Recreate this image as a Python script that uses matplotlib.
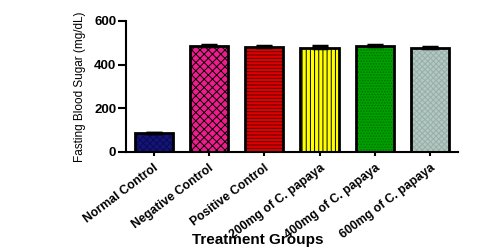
import matplotlib
matplotlib.use("Agg")
import matplotlib.pyplot as plt
import numpy as np

plt.rcParams["font.family"] = ["Liberation Sans", "DejaVu Sans"]
plt.rcParams["hatch.linewidth"] = 0.7

groups = [
    "Normal Control",
    "Negative Control",
    "Positive Control",
    "200mg of C. papaya",
    "400mg of C. papaya",
    "600mg of C. papaya",
]
fbs_mean = [85, 487, 482, 478, 485, 478]
fbs_err = [2, 3, 4, 8, 4, 2]

face_colors = ["#14147a", "#ee1c8c", "#e00000", "#ffff00", "#00a000", "#b4c8c2"]
hatch_colors = ["#0a0a50", "#000000", "#500000", "#000000", "#007000", "#98aea8"]
hatches = ["xxxxx", "xxxx", "-----", "||||", "......", "xxxxxx"]

fig = plt.figure(figsize=(4.96, 2.52), dpi=100)
ax = fig.add_axes([0.254, 0.397, 0.669, 0.52])

x = np.arange(len(groups))
width = 0.69
for i in range(len(groups)):
    ax.bar(x[i], fbs_mean[i], width=width, color=face_colors[i],
           edgecolor=hatch_colors[i], hatch=hatches[i], linewidth=0, zorder=2)
ax.bar(x, fbs_mean, width=width, fill=False, edgecolor="black", linewidth=2, zorder=3)
ax.errorbar(x, fbs_mean, yerr=[np.zeros(len(x)), fbs_err], fmt="none",
            ecolor="black", elinewidth=1.5, capsize=6, capthick=2.5, zorder=4)

ax.set_xlim(-0.5, 5.5)
ax.set_ylim(0, 600)
ax.set_yticks([0, 200, 400, 600])
ax.set_xticks(x)
ax.set_xticklabels(groups, rotation=37, ha="right", rotation_mode="anchor",
                   fontsize=8.8, fontweight="bold")
for lbl in ax.get_yticklabels():
    lbl.set_fontweight("bold")
    lbl.set_fontsize(9.5)

ax.spines["top"].set_visible(False)
ax.spines["right"].set_visible(False)
ax.spines["left"].set_linewidth(1.5)
ax.spines["bottom"].set_linewidth(1.5)
ax.tick_params(axis="y", direction="out", length=6, width=1.5, pad=1)
ax.tick_params(axis="x", direction="out", length=3, width=1.5, pad=4)

ax.set_ylabel("Fasting Blood Sugar (mg/dL)", fontsize=8.5, labelpad=6)
ax.set_xlabel("Treatment Groups", fontsize=11, fontweight="bold", va="center")
ax.xaxis.set_label_coords(0.398, -0.672)

fig.savefig("out.png", dpi=100)
